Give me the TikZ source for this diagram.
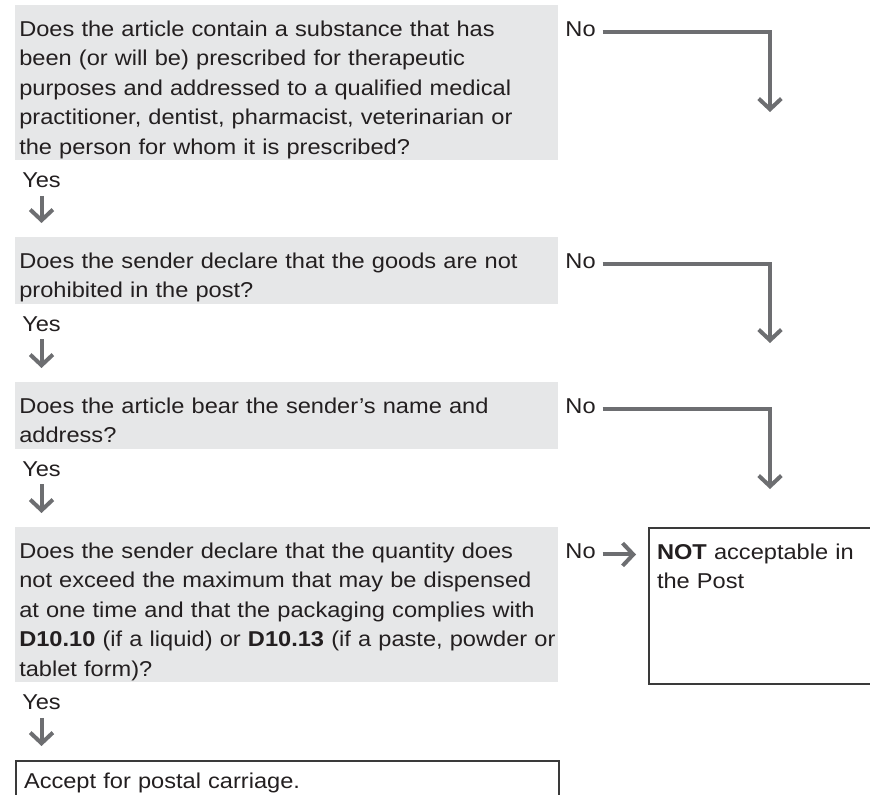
\documentclass[tikz,border=0pt]{standalone}
\usepackage{fontspec}
\setmainfont{Liberation Sans}[FakeStretch=1.10]
\usetikzlibrary{positioning,arrows.meta}

\definecolor{qgrey}{HTML}{E6E7E8}
\definecolor{flowgrey}{HTML}{6D6E71}
\definecolor{ink}{HTML}{231F20}
\definecolor{boxline}{HTML}{3A3A3A}

\newcommand{\chartfont}{\fontsize{16.1pt}{22.1pt}\selectfont}

\tikzset{
  question/.style={anchor=north west, fill=qgrey, text=ink, font=\chartfont,
    text width=401pt, align=left, inner xsep=3pt, inner ysep=0pt,
    text height=23.25pt,
    execute at begin node={\rightskip=0pt plus 1fil minus 6pt\linepenalty=200},
    execute at end node={\rule[-4.5pt]{0pt}{0pt}}},
  outcome/.style={anchor=north west, draw=boxline, line width=1.5pt, fill=white,
    text=ink, font=\chartfont, align=left, inner xsep=6pt, inner ysep=0.5pt},
  answer/.style={anchor=base west, text=ink, font=\chartfont, inner sep=0pt},
  flow/.style={draw=flowgrey, line width=3pt,
    -{Straight Barb[length=8pt,width=17pt]}},
  noflow/.style={flow, shorten <=5pt}
}

\begin{document}
\begin{tikzpicture}[x=0.75pt, y=-0.75pt]
\useasboundingbox (0,0) rectangle (870,794);

% questions
\node[question] (q1) at (15,5) {Does the article contain a substance that has\\
been (or will be) prescribed for therapeutic\\
purposes and addressed to a qualified medical\\
practitioner, dentist, pharmacist, veterinarian or\\
the person for whom it is prescribed?};
\node[question] (q2) at (15,237) {Does the sender declare that the goods are not\\
prohibited in the post?};
\node[question] (q3) at (15,382) {Does the article bear the sender’s name and\\
address?};
\node[question] (q4) at (15,527) {Does the sender declare that the quantity does\\
not exceed the maximum that may be dispensed\\
at one time and that the packaging complies with\\
\textbf{D10.10} (if a liquid) or \textbf{D10.13} (if a paste, powder or\\
tablet form)?};

% outcomes
\node[outcome, text width=190pt, text height=22.75pt, text depth=93.25pt] (notpost) at (648,527)
  {\textbf{NOT} acceptable in\\ the Post};
\node[outcome, text width=395.25pt, text height=20pt, text depth=40pt] (accept) at (15,760)
  {Accept for postal carriage.};

% yes / no labels
\node[answer] (yes1) at ([shift={(7,27)}]q1.south west) {Yes};
\node[answer] (yes2) at ([shift={(7,27)}]q2.south west) {Yes};
\node[answer] (yes3) at ([shift={(7,27)}]q3.south west) {Yes};
\node[answer] (yes4) at ([shift={(7,27)}]q4.south west) {Yes};
\node[answer] (no1) at ([shift={(7,31)}]q1.north east) {No};
\node[answer] (no2) at ([shift={(7,31)}]q2.north east) {No};
\node[answer] (no3) at ([shift={(7,31)}]q3.north east) {No};
\node[answer] (no4) at ([shift={(7,31)}]q4.north east) {No};

\coordinate (end1) at (770,112);
\coordinate (end2) at (770,343);
\coordinate (end3) at (770,489);

% yes arrows
\draw[flow, shorten <=6pt, shorten >=10.5pt] (yes1.south) -- (yes1.south |- q2.north);
\draw[flow, shorten <=6pt, shorten >=10.5pt] (yes2.south) -- (yes2.south |- q3.north);
\draw[flow, shorten <=6pt, shorten >=10.5pt] (yes3.south) -- (yes3.south |- q4.north);
\draw[flow, shorten <=6pt, shorten >=10.5pt] (yes4.south) -- (yes4.south |- accept.north);

% no arrows
\draw[noflow] (no1.mid east) -| (end1);
\draw[noflow] (no2.mid east) -| (end2);
\draw[noflow] (no3.mid east) -| (end3);
\draw[noflow, shorten >=9pt] (no4.mid east) -- (no4.mid east -| notpost.west);

\end{tikzpicture}
\end{document}
